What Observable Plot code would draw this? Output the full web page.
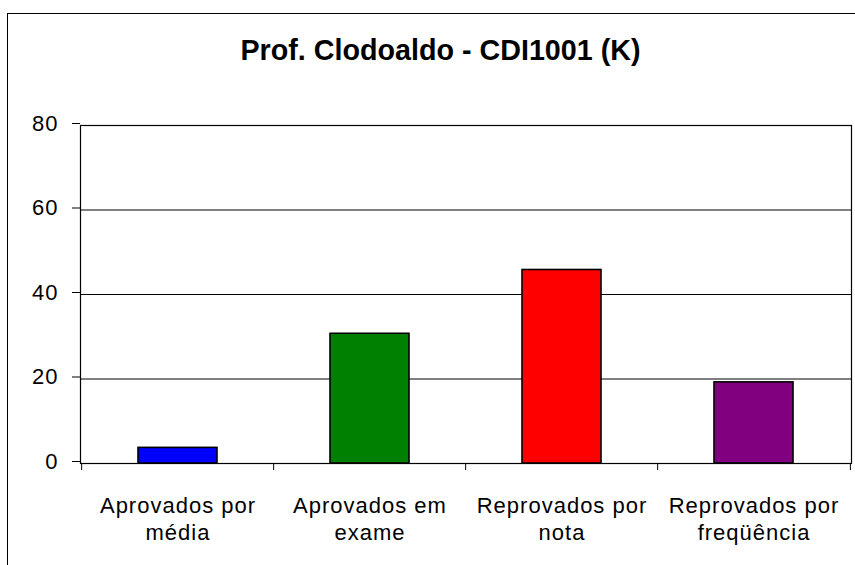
<!DOCTYPE html>
<html><head><meta charset="utf-8">
<script src="https://cdn.jsdelivr.net/npm/d3@7"></script>
<script src="https://cdn.jsdelivr.net/npm/@observablehq/plot@0.6"></script>
<style>
html,body{margin:0;padding:0;background:#fff;overflow:hidden;}
#wrap{position:relative;width:855px;height:565px;overflow:hidden;}
#border{position:absolute;left:7px;top:13px;width:900px;height:600px;border:1.5px solid #000;pointer-events:none;}
.xlab text{letter-spacing:1px;}
.ylab text{letter-spacing:1px;}
</style></head><body>
<div id="wrap"><div id="border"></div></div>
<script>
const title = "Prof. Clodoaldo - CDI1001 (K)";
const categories = ["Aprovados por média","Aprovados em exame","Reprovados por nota","Reprovados por freqüência"];
const labels = ["Aprovados por\nmédia","Aprovados em\nexame","Reprovados por\nnota","Reprovados por\nfreqüência"];
const values = [3.7, 30.7, 45.8, 19.2];
const colors = ["#0000ff","#008000","#ff0000","#800080"];
const yTicks = [0, 20, 40, 60, 80];
const gridValues = [20, 40, 60];

const W = 855, H = 565, mL = 80, mR = 4, mT = 125, mB = 102;
const step = (W - mL - mR) / categories.length;
const data = categories.map((c, i) => ({cat: c, value: values[i], label: labels[i]}));

const chart = Plot.plot({
  width: W, height: H,
  marginLeft: mL, marginRight: mR, marginTop: mT, marginBottom: mB,
  style: {fontFamily: "'Liberation Sans', Arial, sans-serif", fontSize: "22px", color: "#000", background: "transparent"},
  x: {domain: categories, paddingInner: 0.59, paddingOuter: 0.295, axis: null},
  y: {domain: [0, 80], axis: null, label: null},
  color: {domain: categories, range: colors},
  marks: [
    Plot.ruleY(gridValues, {stroke: "#000", strokeWidth: 1}),
    Plot.barY(data, {x: "cat", y: "value", fill: "cat", stroke: "#000", strokeWidth: 1.6}),
    Plot.frame({stroke: "#000", strokeWidth: 1.2}),
    Plot.axisY(yTicks, {tickSize: 8, tickPadding: 14, fontSize: 22, dy: -2, label: null, className: "ylab", stroke: "#000"}),
    Plot.ruleX(categories, {x: d => d, y1: 0, y2: 0, insetBottom: -7, dx: -step / 2, stroke: "#000"}),
    Plot.ruleX(categories.slice(-1), {x: d => d, y1: 0, y2: 0, insetBottom: -7, dx: step / 2, stroke: "#000"}),
    Plot.text(data, {x: "cat", text: "label", frameAnchor: "bottom", lineAnchor: "top", dy: 30, lineHeight: 1.245, fontSize: 22, fill: "#000", className: "xlab"}),
    Plot.text([title], {frameAnchor: "top", lineAnchor: "bottom", dx: -25.5, dy: -66, fontSize: 28.7, fontWeight: "bold", fill: "#000"})
  ]
});
document.getElementById("wrap").prepend(chart);
</script>
</body></html>
